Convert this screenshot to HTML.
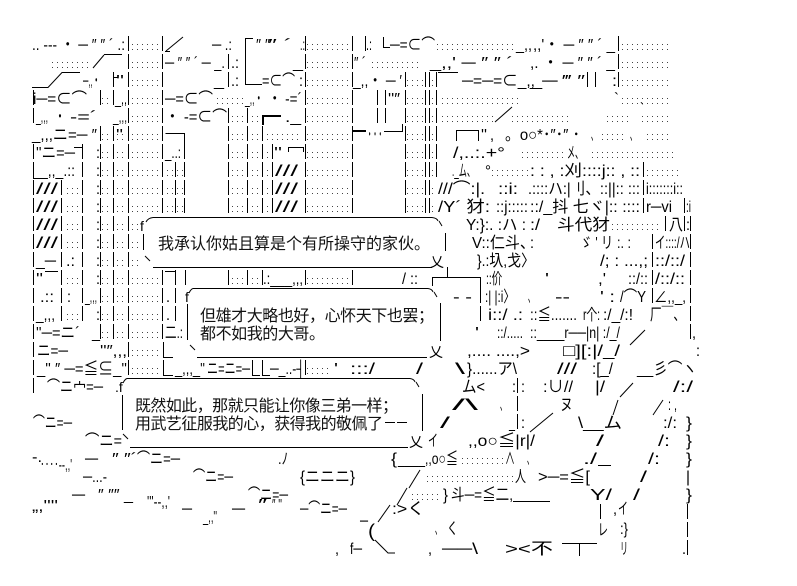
<!DOCTYPE html>
<html><head><meta charset="utf-8">
<style>
html,body{margin:0;padding:0;background:#fff;}
body{width:797px;height:586px;overflow:hidden;}
svg{display:block;}
text{font-family:"Liberation Sans","Noto Sans CJK JP",sans-serif;font-size:16px;fill:#000;}
text.b{font-family:"Liberation Sans","Noto Sans CJK SC",sans-serif;font-size:16px;fill:#111;}
.v{stroke:#000;stroke-width:1;stroke-dasharray:15 3;fill:none;}
.l{stroke:#000;stroke-width:1;fill:none;}
</style></head>
<body>
<svg width="797" height="586" viewBox="0 0 797 586" xmlns="http://www.w3.org/2000/svg">
<defs>
<pattern id="d" x="0" y="35" width="5" height="18" patternUnits="userSpaceOnUse">
<rect x="2" y="9" width="1" height="1" fill="#444"/><rect x="2" y="14" width="1" height="1" fill="#444"/>
</pattern>
</defs>
<rect width="797" height="586" fill="#fff"/>

<!-- dotted fills -->
<g fill="url(#d)">
<rect x="130" y="35" width="32" height="180"/>
<rect x="130" y="269" width="32" height="108"/>
<rect x="130" y="215" width="11" height="54"/>
<rect x="102" y="89" width="10" height="18"/>
<rect x="102" y="125" width="10" height="216"/>
<rect x="115" y="125" width="12" height="216"/>
<rect x="63" y="179" width="17" height="72"/>
<rect x="63" y="269" width="17" height="18"/>
<rect x="63" y="305" width="17" height="18"/>
<rect x="165" y="161" width="9" height="54"/>
<rect x="177" y="161" width="6" height="54"/>
<rect x="230" y="107" width="16" height="108"/>
<rect x="230" y="269" width="16" height="18"/>
<rect x="249" y="107" width="12" height="108"/>
<rect x="249" y="269" width="12" height="18"/>
<rect x="264" y="143" width="7" height="72"/>
<rect x="307" y="35" width="44" height="180"/>
<rect x="307" y="269" width="44" height="18"/>
<rect x="407" y="71" width="17" height="144"/>
<rect x="431" y="71" width="4" height="144"/>
<rect x="48" y="53" width="44" height="18"/>
<rect x="215" y="89" width="29" height="18"/>
<rect x="437" y="35" width="76" height="18"/>
<rect x="372" y="53" width="50" height="18"/>
<rect x="440" y="89" width="78" height="18"/>
<rect x="442" y="107" width="52" height="18"/>
<rect x="512" y="107" width="58" height="18"/>
<rect x="603" y="107" width="27" height="18"/>
<rect x="640" y="107" width="28" height="18"/>
<rect x="620" y="89" width="48" height="18"/>
<rect x="622" y="35" width="46" height="54"/>
<rect x="265" y="125" width="37" height="18"/>
<rect x="598" y="125" width="29" height="18"/>
<rect x="645" y="125" width="23" height="18"/>
<rect x="518" y="143" width="48" height="18"/>
<rect x="592" y="143" width="81" height="18"/>
<rect x="492" y="161" width="36" height="18"/>
<rect x="646" y="161" width="34" height="18"/>
<rect x="612" y="215" width="50" height="18"/>
<rect x="307" y="359" width="23" height="18"/>
<rect x="460" y="449" width="45" height="18"/>
<rect x="427" y="467" width="88" height="18"/>
<rect x="408" y="485" width="32" height="18"/>
</g>

<!-- vertical column lines -->
<g class="v">
<line x1="33.5" y1="90" x2="33.5" y2="123"/>
<line x1="33.5" y1="144" x2="33.5" y2="393"/>
<line x1="61.5" y1="180" x2="61.5" y2="321"/>
<line x1="82.5" y1="144" x2="82.5" y2="321"/>
<line x1="100.5" y1="90" x2="100.5" y2="105"/>
<line x1="100.5" y1="126" x2="100.5" y2="339"/>
<line x1="113.5" y1="72" x2="113.5" y2="105"/>
<line x1="113.5" y1="126" x2="113.5" y2="339"/>
<line x1="128.5" y1="36" x2="128.5" y2="375"/>
<line x1="162.5" y1="36" x2="162.5" y2="213"/>
<line x1="162.5" y1="270" x2="162.5" y2="339"/>
<line x1="175.5" y1="162" x2="175.5" y2="213"/>
<line x1="175.5" y1="270" x2="175.5" y2="321"/>
<line x1="184.5" y1="144" x2="184.5" y2="213"/>
<line x1="185.5" y1="270" x2="185.5" y2="285"/>
<line x1="228.5" y1="54" x2="228.5" y2="87"/>
<line x1="228.5" y1="108" x2="228.5" y2="213"/>
<line x1="228.5" y1="270" x2="228.5" y2="285"/>
<line x1="247.5" y1="108" x2="247.5" y2="213"/>
<line x1="247.5" y1="270" x2="247.5" y2="285"/>
<line x1="262.5" y1="126" x2="262.5" y2="213"/>
<line x1="262.5" y1="270" x2="262.5" y2="285"/>
<line x1="272.5" y1="144" x2="272.5" y2="213"/>
<line x1="305.5" y1="36" x2="305.5" y2="213"/>
<line x1="305.5" y1="270" x2="305.5" y2="285"/>
<line x1="305.5" y1="360" x2="305.5" y2="375"/>
<line x1="352.5" y1="36" x2="352.5" y2="213"/>
<line x1="352.5" y1="270" x2="352.5" y2="285"/>
<line x1="365.5" y1="36" x2="365.5" y2="51"/>
<line x1="377.5" y1="90" x2="377.5" y2="123"/>
<line x1="385.5" y1="90" x2="385.5" y2="123"/>
<line x1="405.5" y1="72" x2="405.5" y2="213"/>
<line x1="425.5" y1="72" x2="425.5" y2="213"/>
<line x1="429.5" y1="72" x2="429.5" y2="213"/>
<line x1="436.5" y1="72" x2="436.5" y2="177"/>
<line x1="587.5" y1="72" x2="587.5" y2="87"/>
<line x1="595.5" y1="72" x2="595.5" y2="87"/>
<line x1="618.5" y1="36" x2="618.5" y2="87"/>
<line x1="643.5" y1="162" x2="643.5" y2="213"/>
<line x1="652.5" y1="234" x2="652.5" y2="303"/>
<line x1="665.5" y1="216" x2="665.5" y2="231"/>
<line x1="684.5" y1="198" x2="684.5" y2="231"/>
<line x1="690.5" y1="216" x2="690.5" y2="339"/>
<line x1="480.5" y1="288" x2="480.5" y2="321"/>
<line x1="517.5" y1="378" x2="517.5" y2="429"/>
<line x1="600.5" y1="504" x2="600.5" y2="519"/>
<line x1="687.5" y1="504" x2="687.5" y2="555"/>
</g>

<!-- misc strokes -->
<g class="l">
<path d="M166 51 L183 37"/>
<path d="M165 51.5 H170"/>
<path d="M245.5 38 V84.5 H262 M245.5 38.5 H253"/>
<path d="M383.5 37 V47.5 H390"/>
<path d="M93 68 L104 55 M104 54.5 H122"/>
<path d="M32 87.5 H48 L62 72.5 H80"/>
<path d="M113.5 77.5 H118"/>
<path d="M438 72.5 H458"/>
<path d="M262 116 H281 M263 116 V125" stroke-width="2"/>
<path d="M352 131 H366" stroke-width="2"/>
<path d="M384 131.5 H402.5 V124"/>
<path d="M165.5 133.5 H184.5 V144"/>
<path d="M456.5 141 V130.5 H478.5 V141"/>
<path d="M495 122 L512 107"/>
<path d="M74 147.5 H82.5"/>
<path d="M288 147.5 H303 M288.5 147 V152 M303.5 147 V152"/>
<path d="M33.5 168 V178.5 H40"/>
<path d="M45 271.5 H58"/>
<path d="M165 271.5 H175.5"/>
<path d="M432.5 286 V277.5 H480.5 V290 M447.5 267 V277.5"/>
<path d="M630 345 L645 330"/>
<path d="M163.5 342 V357.5 H173"/>
<path d="M163.5 360 V375.5 H173 M252.5 360 V375.5 H260 M262.5 360 V375.5 H270"/>
<path d="M620 397 L633 383"/>
<path d="M613 415 L618 400 M653 415 L663 400"/>
<path d="M530 432 L553 413"/>
<path d="M409 488 L420 470"/>
<path d="M598 465.5 H611"/>
<path d="M397 505 L407 488"/>
<path d="M513 501.5 H550"/>
<path d="M378 522 L390 505"/>
<path d="M375 540 L388 553 H395"/>
<path d="M562 543.5 H597 M579.5 543 V556"/>
<path d="M385 422.5 H395 M397 422.5 H407"/>

<!-- bubble 1 -->
<path d="M153 217.5 H432 M153 267.5 H432"/>
<path d="M146 222 Q148 218 153 217.5"/>
<path d="M432 217.5 Q437 218 438 221 M439 221 L442 226"/>
<path d="M143.5 234 V250 M445.5 233 V251"/>
<path d="M145 256 L150 261"/>
<!-- bubble 2 -->
<path d="M193 288.5 H428 M197 357.5 H427"/>
<path d="M189 293 Q191 289 193 288.5"/>
<path d="M428 288.5 Q432 289 433 292 M434 292 L437 297"/>
<path d="M187.5 304 V340 M440.5 303 V341"/>
<path d="M190 345 L195 350"/>
<!-- bubble 3 -->
<path d="M127 378.5 H410 M130 447.5 H408"/>
<path d="M123 383 Q125 379 127 378.5"/>
<path d="M410 378.5 Q414 379 415 382 M416 382 L419 387"/>
<path d="M122.5 395 V430 M422.5 394 V431"/>
<path d="M123 434 L128 439"/>
</g>

<!-- bubble corner glyphs -->
<text x="140" y="231" style="font-size:14px">f</text>
<text x="430" y="267" style="font-size:14px">乂</text>
<text x="185" y="302" style="font-size:14px">f</text>
<text x="429" y="357" style="font-size:14px">乂</text>
<text x="115" y="392" style="font-size:14px">.f</text>
<text x="409" y="447" style="font-size:14px">乂</text>

<!-- bubble texts -->
<text class="b" x="158" y="249" textLength="272" lengthAdjust="spacing">我承认你姑且算是个有所操守的家伙。</text>
<text class="b" x="200" y="321" textLength="234" lengthAdjust="spacing">但雄才大略也好，心怀天下也罢；</text>
<text class="b" x="200" y="339" textLength="125" lengthAdjust="spacing">都不如我的大哥。</text>
<text class="b" x="135" y="411" textLength="263" lengthAdjust="spacing">既然如此，那就只能让你像三弟一样；</text>
<text class="b" x="135" y="429" textLength="248" lengthAdjust="spacing">用武艺征服我的心，获得我的敬佩了</text>

<!-- AA fragments -->
<g>
<!-- row 0 -->
<text x="32" y="50" textLength="93" lengthAdjust="spacingAndGlyphs">.. -‐- ・ ─ ″ ″ ´ .:</text>
<text x="212" y="50" textLength="20" lengthAdjust="spacingAndGlyphs">─ .:</text>
<text x="256" y="50" textLength="14" lengthAdjust="spacingAndGlyphs">″ ″</text>
<text x="268" y="50" textLength="24" lengthAdjust="spacingAndGlyphs">″ ´</text>
<text x="300" y="50" textLength="5" lengthAdjust="spacingAndGlyphs">.:</text>
<text x="366" y="50" textLength="6" lengthAdjust="spacingAndGlyphs">.:</text>
<text x="390" y="50" textLength="45" lengthAdjust="spacingAndGlyphs">─=⊂⌒</text>
<text x="516" y="50" textLength="16" lengthAdjust="spacingAndGlyphs">_,,</text>
<text x="533" y="50" textLength="82" lengthAdjust="spacingAndGlyphs">,,'・ ─ ″ ″ ´ _</text>
<!-- row 1 -->
<text x="165" y="68" textLength="60" lengthAdjust="spacingAndGlyphs">─ ″ ″ ´  ─ _.</text>
<text x="231" y="68" textLength="8" lengthAdjust="spacingAndGlyphs">.:</text>
<text x="293" y="68" textLength="10" lengthAdjust="spacingAndGlyphs">_</text>
<text x="354" y="68" textLength="12" lengthAdjust="spacingAndGlyphs">″ ´</text>
<text x="430" y="68" textLength="83" lengthAdjust="spacingAndGlyphs">_,,' ─ ″ ″ ´</text>
<text x="530" y="68" textLength="85" lengthAdjust="spacingAndGlyphs">,.  ・ ─ ″ ″ ´ _</text>
<!-- row 2 -->
<text x="83" y="86" textLength="17" lengthAdjust="spacingAndGlyphs">─,,・</text>
<text x="116" y="86" textLength="8" lengthAdjust="spacingAndGlyphs">''</text>
<text x="214" y="86" textLength="10" lengthAdjust="spacingAndGlyphs">_</text>
<text x="231" y="86" textLength="8" lengthAdjust="spacingAndGlyphs">.:</text>
<text x="262" y="86" textLength="33" lengthAdjust="spacingAndGlyphs">=⊂⌒</text>
<text x="299" y="86" textLength="4" lengthAdjust="spacingAndGlyphs">:</text>
<text x="353" y="86" textLength="49" lengthAdjust="spacingAndGlyphs">_,,・ ─ ′</text>
<text x="462" y="86" textLength="73" lengthAdjust="spacingAndGlyphs">─=─=⊂_,,</text>
<text x="530" y="86" textLength="55" lengthAdjust="spacingAndGlyphs">_─  ‴ ″</text>
<text x="612" y="86" textLength="5" lengthAdjust="spacingAndGlyphs">:</text>
<!-- row 3 -->
<text x="33" y="104" textLength="54" lengthAdjust="spacingAndGlyphs">i─=⊂⌒</text>
<text x="115" y="104" textLength="12" lengthAdjust="spacingAndGlyphs">_,,</text>
<text x="165" y="104" textLength="48" lengthAdjust="spacingAndGlyphs">─=⊂⌒</text>
<text x="245" y="104" textLength="18" lengthAdjust="spacingAndGlyphs">_,,・</text>
<text x="268" y="104" textLength="34" lengthAdjust="spacingAndGlyphs">・ ‐=´</text>
<text x="388" y="104" textLength="12" lengthAdjust="spacingAndGlyphs">''″</text>
<text x="614" y="104" textLength="5" lengthAdjust="spacingAndGlyphs">`</text>
<!-- row 4 -->
<text x="36" y="122" textLength="12" lengthAdjust="spacingAndGlyphs">_,,,</text>
<text x="55" y="122" textLength="10" lengthAdjust="spacingAndGlyphs">・</text>
<text x="70" y="122" textLength="27" lengthAdjust="spacingAndGlyphs">‐=´</text>
<text x="113" y="122" textLength="14" lengthAdjust="spacingAndGlyphs">_,,,</text>
<text x="165" y="122" textLength="62" lengthAdjust="spacingAndGlyphs">・ ‐=⊂⌒</text>
<text x="285" y="122" textLength="16" lengthAdjust="spacingAndGlyphs">._</text>
<text x="640" y="114" textLength="4" lengthAdjust="spacingAndGlyphs">`</text>
<!-- row 5 -->
<text x="32" y="140" textLength="65" lengthAdjust="spacingAndGlyphs">_,,,ニ=─ ″</text>
<text x="116" y="140" textLength="7" lengthAdjust="spacingAndGlyphs">''</text>
<text x="367" y="140" textLength="16" lengthAdjust="spacingAndGlyphs">・・・</text>
<text x="481" y="140" textLength="6" lengthAdjust="spacingAndGlyphs">''</text>
<text x="490" y="140" textLength="4" lengthAdjust="spacingAndGlyphs">,</text>
<text x="505" y="140" textLength="75" lengthAdjust="spacingAndGlyphs">。o○*･″･″ ･</text>
<text x="591" y="140" textLength="6" lengthAdjust="spacingAndGlyphs">、</text>
<text x="630" y="140" textLength="6" lengthAdjust="spacingAndGlyphs">、</text>
<!-- row 6 -->
<text x="36" y="158" textLength="39" lengthAdjust="spacingAndGlyphs">''ニ=─</text>
<text x="96" y="158" textLength="4" lengthAdjust="spacingAndGlyphs">:</text>
<text x="165" y="158" textLength="16" lengthAdjust="spacingAndGlyphs">_..:</text>
<text x="274" y="158" textLength="8" lengthAdjust="spacingAndGlyphs">''</text>
<text x="453" y="158" textLength="52" lengthAdjust="spacingAndGlyphs">/,..:.+°</text>
<text x="567" y="158" textLength="16" lengthAdjust="spacingAndGlyphs">メ、</text>
<!-- row 7 -->
<text x="40" y="176" textLength="35" lengthAdjust="spacingAndGlyphs">_,,_.::</text>
<text x="96" y="176" textLength="4" lengthAdjust="spacingAndGlyphs">:</text>
<text x="275" y="176" textLength="23" lengthAdjust="spacingAndGlyphs">///</text>
<text x="452" y="176" textLength="23" lengthAdjust="spacingAndGlyphs">._ム、</text>
<text x="485" y="176" textLength="6" lengthAdjust="spacingAndGlyphs">°</text>
<text x="530" y="176" textLength="110" lengthAdjust="spacingAndGlyphs">: :  , :刈::::j::  ,  ::</text>
<!-- row 8 -->
<text x="36" y="194" textLength="22" lengthAdjust="spacingAndGlyphs">///</text>
<text x="96" y="194" textLength="4" lengthAdjust="spacingAndGlyphs">:</text>
<text x="275" y="194" textLength="23" lengthAdjust="spacingAndGlyphs">///</text>
<text x="438" y="194" textLength="47" lengthAdjust="spacingAndGlyphs">///⌒:|.</text>
<text x="498" y="194" textLength="20" lengthAdjust="spacingAndGlyphs">::i:</text>
<text x="528" y="194" textLength="4" lengthAdjust="spacingAndGlyphs">.</text>
<text x="532" y="194" textLength="108" lengthAdjust="spacingAndGlyphs">::::ハ:|刂、::||::  :::</text>
<text x="646" y="194" textLength="37" lengthAdjust="spacingAndGlyphs">i:::::::i::</text>
<!-- row 9 -->
<text x="36" y="212" textLength="22" lengthAdjust="spacingAndGlyphs">///</text>
<text x="96" y="212" textLength="4" lengthAdjust="spacingAndGlyphs">:</text>
<text x="275" y="212" textLength="23" lengthAdjust="spacingAndGlyphs">///</text>
<text x="438" y="212" textLength="52" lengthAdjust="spacingAndGlyphs">/Y´ 犲:</text>
<text x="496" y="212" textLength="32" lengthAdjust="spacingAndGlyphs">::j:::::</text>
<text x="530" y="212" textLength="110" lengthAdjust="spacingAndGlyphs">::/_抖 七ヾ|::  ::::</text>
<text x="646" y="212" textLength="26" lengthAdjust="spacingAndGlyphs">r─vi</text>
<text x="686" y="212" textLength="5" lengthAdjust="spacingAndGlyphs">:i</text>
<!-- row 10 -->
<text x="36" y="230" textLength="22" lengthAdjust="spacingAndGlyphs">///</text>
<text x="96" y="230" textLength="4" lengthAdjust="spacingAndGlyphs">:</text>
<text x="466" y="230" textLength="60" lengthAdjust="spacingAndGlyphs">Y:}:. :ハ :</text>
<text x="530" y="230" textLength="10" lengthAdjust="spacingAndGlyphs">:/</text>
<text x="557" y="230" textLength="53" lengthAdjust="spacingAndGlyphs">斗代犲</text>
<text x="669" y="230" textLength="14" lengthAdjust="spacingAndGlyphs">八</text>
<text x="686" y="230" textLength="4" lengthAdjust="spacingAndGlyphs">:</text>
<!-- row 11 -->
<text x="36" y="248" textLength="22" lengthAdjust="spacingAndGlyphs">///</text>
<text x="96" y="248" textLength="4" lengthAdjust="spacingAndGlyphs">:</text>
<text x="472" y="248" textLength="63" lengthAdjust="spacingAndGlyphs">V::仁斗、</text>
<text x="530" y="248" textLength="4" lengthAdjust="spacingAndGlyphs">:</text>
<text x="580" y="248" textLength="33" lengthAdjust="spacingAndGlyphs">ゞ ' リ</text>
<text x="617" y="248" textLength="14" lengthAdjust="spacingAndGlyphs">:. :</text>
<text x="655" y="248" textLength="35" lengthAdjust="spacingAndGlyphs">イ::::/ハ</text>
<!-- row 12 -->
<text x="36" y="266" textLength="20" lengthAdjust="spacingAndGlyphs">_─</text>
<text x="66" y="266" textLength="9" lengthAdjust="spacingAndGlyphs">.:</text>
<text x="96" y="266" textLength="4" lengthAdjust="spacingAndGlyphs">:</text>
<text x="477" y="266" textLength="58" lengthAdjust="spacingAndGlyphs">}.:圦,戈〉</text>
<text x="600" y="266" textLength="48" lengthAdjust="spacingAndGlyphs">/;  :  ...,;</text>
<text x="655" y="266" textLength="30" lengthAdjust="spacingAndGlyphs">::/::/</text>
<!-- row 13 -->
<text x="36" y="284" textLength="7" lengthAdjust="spacingAndGlyphs">''</text>
<text x="96" y="284" textLength="4" lengthAdjust="spacingAndGlyphs">:</text>
<text x="263" y="284" textLength="40" lengthAdjust="spacingAndGlyphs">.:___,,,</text>
<text x="402" y="284" textLength="16" lengthAdjust="spacingAndGlyphs">/ ::</text>
<text x="486" y="284" textLength="16" lengthAdjust="spacingAndGlyphs">::价</text>
<text x="545" y="284" textLength="4" lengthAdjust="spacingAndGlyphs">'</text>
<text x="598" y="284" textLength="8" lengthAdjust="spacingAndGlyphs">,'</text>
<text x="628" y="284" textLength="20" lengthAdjust="spacingAndGlyphs">::/::</text>
<text x="655" y="284" textLength="30" lengthAdjust="spacingAndGlyphs">/::/::</text>
<!-- row 14 -->
<text x="40" y="302" textLength="14" lengthAdjust="spacingAndGlyphs">.::</text>
<text x="67" y="302" textLength="4" lengthAdjust="spacingAndGlyphs">:</text>
<text x="85" y="302" textLength="12" lengthAdjust="spacingAndGlyphs">_,,,</text>
<text x="166" y="302" textLength="4" lengthAdjust="spacingAndGlyphs">.</text>
<text x="453" y="302" textLength="19" lengthAdjust="spacingAndGlyphs">‐ ‐</text>
<text x="485" y="302" textLength="30" lengthAdjust="spacingAndGlyphs">:| |:i〉</text>
<text x="528" y="302" textLength="6" lengthAdjust="spacingAndGlyphs">、</text>
<text x="555" y="302" textLength="15" lengthAdjust="spacingAndGlyphs">‐‐</text>
<text x="600" y="302" textLength="15" lengthAdjust="spacingAndGlyphs">' :</text>
<text x="620" y="302" textLength="26" lengthAdjust="spacingAndGlyphs">/⌒Y</text>
<text x="654" y="302" textLength="32" lengthAdjust="spacingAndGlyphs">∠,,_,</text>
<!-- row 15 -->
<text x="36" y="320" textLength="19" lengthAdjust="spacingAndGlyphs">_,,,</text>
<text x="96" y="320" textLength="4" lengthAdjust="spacingAndGlyphs">:</text>
<text x="166" y="320" textLength="4" lengthAdjust="spacingAndGlyphs">.</text>
<text x="488" y="320" textLength="35" lengthAdjust="spacingAndGlyphs">i::/  .:</text>
<text x="530" y="320" textLength="47" lengthAdjust="spacingAndGlyphs">::≦.......</text>
<text x="583" y="320" textLength="17" lengthAdjust="spacingAndGlyphs">r个:</text>
<text x="603" y="320" textLength="30" lengthAdjust="spacingAndGlyphs">:/_/:!</text>
<text x="650" y="320" textLength="35" lengthAdjust="spacingAndGlyphs">厂￣、</text>
<!-- row 16 -->
<text x="36" y="338" textLength="44" lengthAdjust="spacingAndGlyphs">''─=ニ´</text>
<text x="92" y="338" textLength="8" lengthAdjust="spacingAndGlyphs">_</text>
<text x="165" y="338" textLength="18" lengthAdjust="spacingAndGlyphs">二.:</text>
<text x="475" y="338" textLength="4" lengthAdjust="spacingAndGlyphs">'</text>
<text x="497" y="338" textLength="26" lengthAdjust="spacingAndGlyphs">::/.....</text>
<text x="530" y="338" textLength="90" lengthAdjust="spacingAndGlyphs">::____r──|n| :/_/</text>
<text x="692" y="338" textLength="4" lengthAdjust="spacingAndGlyphs">,</text>
<!-- row 17 -->
<text x="37" y="356" textLength="31" lengthAdjust="spacingAndGlyphs">ニ=─</text>
<text x="100" y="356" textLength="27" lengthAdjust="spacingAndGlyphs">''″,,,</text>
<text x="467" y="356" textLength="63" lengthAdjust="spacingAndGlyphs">,....  ....,&gt;</text>
<text x="563" y="356" textLength="57" lengthAdjust="spacingAndGlyphs">□][:|/_/</text>
<text x="696" y="356" textLength="4" lengthAdjust="spacingAndGlyphs">:</text>
<!-- row 18 -->
<text x="37" y="374" textLength="90" lengthAdjust="spacingAndGlyphs">_'' ″  ─=≦⊆_''</text>
<text x="175" y="374" textLength="30" lengthAdjust="spacingAndGlyphs">_,,,_''</text>
<text x="207" y="374" textLength="43" lengthAdjust="spacingAndGlyphs">ニ=ニ=─</text>
<text x="270" y="374" textLength="35" lengthAdjust="spacingAndGlyphs">─_..-┤</text>
<text x="334" y="374" textLength="4" lengthAdjust="spacingAndGlyphs">'</text>
<text x="350" y="374" textLength="25" lengthAdjust="spacingAndGlyphs">:::/</text>
<text x="416" y="374" textLength="7" lengthAdjust="spacingAndGlyphs">/</text>
<text x="455" y="374" textLength="10" lengthAdjust="spacingAndGlyphs">\</text>
<text x="467" y="374" textLength="50" lengthAdjust="spacingAndGlyphs">}......ア\</text>
<text x="557" y="374" textLength="20" lengthAdjust="spacingAndGlyphs">///</text>
<text x="592" y="374" textLength="21" lengthAdjust="spacingAndGlyphs">:[_/</text>
<text x="637" y="374" textLength="60" lengthAdjust="spacingAndGlyphs">__彡⌒ヽ</text>
<!-- row 19 -->
<text x="47" y="392" textLength="56" lengthAdjust="spacingAndGlyphs">⌒ニ宀=─</text>
<text x="462" y="392" textLength="23" lengthAdjust="spacingAndGlyphs">ム&lt;</text>
<text x="512" y="392" textLength="4" lengthAdjust="spacingAndGlyphs">:</text>
<text x="521" y="392" textLength="4" lengthAdjust="spacingAndGlyphs">:</text>
<text x="543" y="392" textLength="30" lengthAdjust="spacingAndGlyphs">:∪//</text>
<text x="595" y="392" textLength="10" lengthAdjust="spacingAndGlyphs">|/</text>
<text x="673" y="392" textLength="20" lengthAdjust="spacingAndGlyphs">/:/</text>
<!-- row 20 -->
<text x="452" y="410" textLength="26" lengthAdjust="spacingAndGlyphs">/\</text>
<text x="500" y="410" textLength="6" lengthAdjust="spacingAndGlyphs">、</text>
<text x="560" y="410" textLength="13" lengthAdjust="spacingAndGlyphs">ヌ</text>
<text x="668" y="410" textLength="9" lengthAdjust="spacingAndGlyphs">: ,</text>
<!-- row 21 -->
<text x="33" y="428" textLength="39" lengthAdjust="spacingAndGlyphs">⌒ニ=─</text>
<text x="440" y="428" textLength="10" lengthAdjust="spacingAndGlyphs">/</text>
<text x="509" y="428" textLength="6" lengthAdjust="spacingAndGlyphs">_</text>
<text x="521" y="428" textLength="4" lengthAdjust="spacingAndGlyphs">:</text>
<text x="578" y="428" textLength="44" lengthAdjust="spacingAndGlyphs">\__ム</text>
<text x="663" y="428" textLength="14" lengthAdjust="spacingAndGlyphs">:/:</text>
<text x="686" y="428" textLength="6" lengthAdjust="spacingAndGlyphs">}</text>
<!-- row 22 -->
<text x="85" y="446" textLength="37" lengthAdjust="spacingAndGlyphs">⌒ニ=</text>
<text x="428" y="446" textLength="10" lengthAdjust="spacingAndGlyphs">イ</text>
<text x="468" y="446" textLength="67" lengthAdjust="spacingAndGlyphs">,,o○≦|r|/</text>
<text x="596" y="446" textLength="8" lengthAdjust="spacingAndGlyphs">/</text>
<text x="658" y="446" textLength="12" lengthAdjust="spacingAndGlyphs">/:</text>
<text x="686" y="446" textLength="6" lengthAdjust="spacingAndGlyphs">}</text>
<!-- row 23 -->
<text x="32" y="462" textLength="10" lengthAdjust="spacingAndGlyphs">‐.</text>
<text x="40" y="470" textLength="32" lengthAdjust="spacingAndGlyphs">‥‥‐-,,'</text>
<text x="85" y="464" textLength="13" lengthAdjust="spacingAndGlyphs">─</text>
<text x="112" y="464" textLength="25" lengthAdjust="spacingAndGlyphs">″ ″´</text>
<text x="137" y="464" textLength="43" lengthAdjust="spacingAndGlyphs">⌒ニ=─</text>
<text x="278" y="464" textLength="10" lengthAdjust="spacingAndGlyphs">.ﾉ</text>
<text x="391" y="464" textLength="6" lengthAdjust="spacingAndGlyphs">{</text>
<text x="398" y="464" textLength="60" lengthAdjust="spacingAndGlyphs">____,,o○≦</text>
<text x="505" y="464" textLength="10" lengthAdjust="spacingAndGlyphs">∧</text>
<text x="527" y="464" textLength="6" lengthAdjust="spacingAndGlyphs">、</text>
<text x="583" y="464" textLength="14" lengthAdjust="spacingAndGlyphs">./</text>
<text x="648" y="464" textLength="12" lengthAdjust="spacingAndGlyphs">/:</text>
<text x="686" y="464" textLength="6" lengthAdjust="spacingAndGlyphs">}</text>
<!-- row 24 -->
<text x="83" y="482" textLength="24" lengthAdjust="spacingAndGlyphs">─...‐</text>
<text x="193" y="482" textLength="40" lengthAdjust="spacingAndGlyphs">⌒ニ=─</text>
<text x="300" y="482" textLength="55" lengthAdjust="spacingAndGlyphs">{ニニニ}</text>
<text x="515" y="482" textLength="11" lengthAdjust="spacingAndGlyphs">人</text>
<text x="538" y="482" textLength="52" lengthAdjust="spacingAndGlyphs">&gt;─=≦[</text>
<text x="640" y="482" textLength="7" lengthAdjust="spacingAndGlyphs">/</text>
<text x="686" y="482" textLength="4" lengthAdjust="spacingAndGlyphs">|</text>
<!-- row 25 -->
<text x="72" y="500" textLength="13" lengthAdjust="spacingAndGlyphs">─</text>
<text x="98" y="500" textLength="35" lengthAdjust="spacingAndGlyphs">″ ″″ _</text>
<text x="248" y="500" textLength="40" lengthAdjust="spacingAndGlyphs">⌒ニ=─</text>
<text x="443" y="500" textLength="5" lengthAdjust="spacingAndGlyphs">}</text>
<text x="451" y="500" textLength="62" lengthAdjust="spacingAndGlyphs">斗─=≦二,</text>
<text x="590" y="500" textLength="22" lengthAdjust="spacingAndGlyphs">Y/</text>
<text x="633" y="500" textLength="7" lengthAdjust="spacingAndGlyphs">/</text>
<text x="686" y="500" textLength="6" lengthAdjust="spacingAndGlyphs">}</text>
<!-- row 26 -->
<text x="32" y="511" textLength="26" lengthAdjust="spacingAndGlyphs">„,''''</text>
<text x="147" y="507" textLength="23" lengthAdjust="spacingAndGlyphs">'''‐-,,'</text>
<text x="182" y="514" textLength="10" lengthAdjust="spacingAndGlyphs">─</text>
<text x="232" y="514" textLength="13" lengthAdjust="spacingAndGlyphs">─</text>
<text x="258" y="510" textLength="9" lengthAdjust="spacingAndGlyphs">″</text>
<text x="272" y="510" textLength="10" lengthAdjust="spacingAndGlyphs">″ ''</text>
<text x="300" y="514" textLength="47" lengthAdjust="spacingAndGlyphs">─⌒ニ=─</text>
<text x="392" y="514" textLength="33" lengthAdjust="spacingAndGlyphs">:&gt;く</text>
<text x="613" y="514" textLength="4" lengthAdjust="spacingAndGlyphs">,</text>
<text x="618" y="514" textLength="10" lengthAdjust="spacingAndGlyphs">イ</text>
<!-- row 27 -->
<text x="203" y="522" textLength="14" lengthAdjust="spacingAndGlyphs">_,,''</text>
<text x="360" y="526" textLength="8" lengthAdjust="spacingAndGlyphs">─</text>
<text x="368" y="537" textLength="7" lengthAdjust="spacingAndGlyphs" style="font-size:18px">(</text>
<text x="435" y="534" textLength="6" lengthAdjust="spacingAndGlyphs">、</text>
<text x="447" y="534" textLength="11" lengthAdjust="spacingAndGlyphs">く</text>
<text x="598" y="535" textLength="10" lengthAdjust="spacingAndGlyphs">レ</text>
<text x="620" y="534" textLength="8" lengthAdjust="spacingAndGlyphs">:}</text>
<!-- row 28 -->
<text x="335" y="554" textLength="4" lengthAdjust="spacingAndGlyphs">,</text>
<text x="350" y="554" textLength="12" lengthAdjust="spacingAndGlyphs">f─</text>
<text x="428" y="554" textLength="4" lengthAdjust="spacingAndGlyphs">,</text>
<text x="442" y="554" textLength="36" lengthAdjust="spacingAndGlyphs">──\</text>
<text x="505" y="554" textLength="48" lengthAdjust="spacingAndGlyphs">&gt;&lt;不</text>
<text x="620" y="554" textLength="8" lengthAdjust="spacingAndGlyphs">リ</text>
<text x="682" y="554" textLength="4" lengthAdjust="spacingAndGlyphs">.</text>
</g>
</svg>
</body></html>
